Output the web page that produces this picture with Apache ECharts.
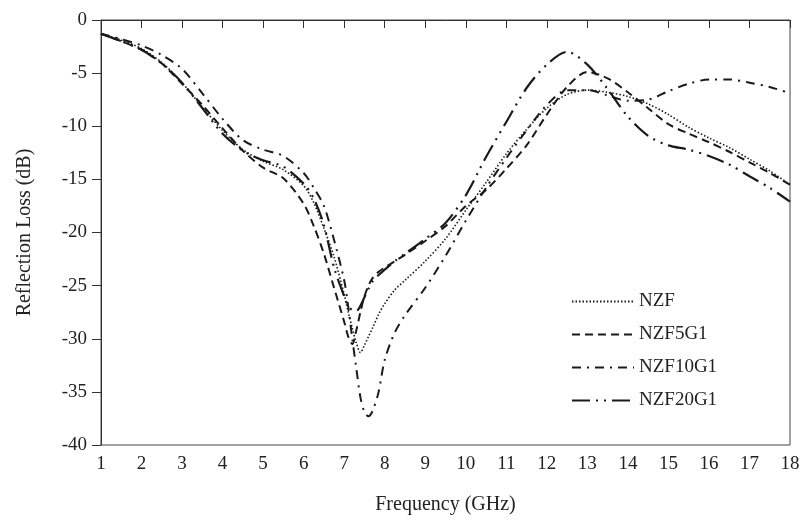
<!DOCTYPE html>
<html lang="en">
<head>
    <meta charset="UTF-8">
    <title>Reflection Loss</title>
    <script src="https://cdn.jsdelivr.net/npm/echarts@6/dist/echarts.min.js"></script>
    <style>
        html, body { margin: 0; padding: 0; background: #fff; }
        #chart { width: 808px; height: 522px; }
    </style>
</head>
<body>
<div id="chart"></div>
<script>
    // frequency points (GHz)
    var freq = [1, 1.5, 2, 2.5, 3, 3.5, 4, 4.5, 5, 5.5, 6, 6.25, 6.5, 6.75, 7, 7.1, 7.2, 7.3, 7.4, 7.5, 7.6, 7.7, 7.85, 8,
        8.25, 8.5, 9, 9.5, 10, 10.5, 11, 11.5, 12, 12.5, 13, 13.5, 14, 14.5, 15, 15.5, 16, 16.5, 17, 17.5, 18];

    // reflection loss (dB)
    var nzf = [-1.3, -1.9, -2.7, -4.0, -5.9, -8.2, -10.4, -12.2, -13.3, -14.1, -15.6, -17.2, -19.6, -22.3, -25.8, -27.5,
        -29.0, -30.4, -31.3, -30.6, -29.8, -29.0, -27.7, -26.7, -25.4, -24.5, -22.7, -20.6, -17.9, -15.3, -12.6, -10.3,
        -8.3, -7.0, -6.6, -6.8, -7.2, -7.9, -8.9, -10.1, -11.1, -12.0, -13.1, -14.2, -15.5];
    var nzf5g1 = [-1.3, -2.0, -2.8, -4.1, -6.0, -8.0, -10.2, -12.3, -13.9, -14.9, -17.3, -19.4, -22.0, -25.2, -28.4, -29.8,
        -30.5, -29.2, -27.5, -26.0, -25.0, -24.3, -23.7, -23.3, -22.7, -22.1, -20.8, -19.4, -17.5, -16.0, -14.0, -11.8,
        -8.9, -6.3, -4.9, -5.5, -6.8, -8.3, -9.8, -10.7, -11.5, -12.4, -13.4, -14.4, -15.5];
    var nzf10g1 = [-1.3, -1.8, -2.4, -3.3, -4.6, -6.9, -9.3, -11.3, -12.2, -12.8, -14.4, -15.8, -17.5, -20.7, -24.5, -27.0,
        -30.0, -32.8, -35.5, -36.9, -37.3, -36.8, -35.0, -32.0, -29.4, -27.8, -25.2, -22.2, -18.9, -15.8, -13.0, -10.4,
        -8.0, -6.6, -6.6, -7.1, -7.6, -7.5, -6.7, -6.0, -5.6, -5.6, -5.9, -6.3, -6.9];
    var nzf20g1 = [-1.3, -2.0, -2.8, -4.1, -5.9, -8.3, -10.7, -12.3, -13.2, -13.8, -15.4, -16.8, -19.3, -23.3, -26.0, -26.9,
        -27.3, -27.4, -26.9, -26.1, -25.3, -24.6, -24.0, -23.5, -22.7, -22.0, -20.6, -19.1, -16.5, -12.9, -9.6, -6.4,
        -4.2, -3.0, -4.2, -6.5, -9.1, -10.9, -11.8, -12.2, -12.8, -13.6, -14.7, -15.8, -17.1];

    var names = ['NZF', 'NZF5G1', 'NZF10G1', 'NZF20G1'];
    var values = [nzf, nzf5g1, nzf10g1, nzf20g1];
    // dotted, dashed, dash-dot, long dash-dot-dot
    var dashes = [[1.5, 2], [8, 5], [9, 6, 2, 6], [18, 6, 2, 6, 2, 6]];
    var widths = [1.6, 2, 2, 2.2];

    var font = 'Liberation Serif';

    var series = [];
    for (var i = 0; i < names.length; i++) {
        var pts = [];
        for (var j = 0; j < freq.length; j++) {
            pts.push([freq[j], values[i][j]]);
        }
        series.push({
            name: names[i],
            type: 'line',
            data: pts,
            smooth: 0.3,
            symbol: 'none',
            lineStyle: { color: '#1a1a1a', width: widths[i], type: dashes[i] },
            itemStyle: { color: '#1a1a1a' }
        });
    }

    var myChart = echarts.init(document.getElementById('chart'));
    myChart.setOption({
        animation: false,
        grid: {
            left: 101, right: 18, top: 20, bottom: 77,
            show: true, borderColor: '#444', borderWidth: 1
        },
        legend: {
            orient: 'vertical',
            left: 566,
            top: 287,
            itemWidth: 62,
            itemHeight: 12,
            itemGap: 14,
            itemStyle: { color: 'transparent', borderColor: 'transparent', borderWidth: 0 },
            textStyle: { fontFamily: font, fontSize: 19, color: '#222' },
            data: names
        },
        xAxis: {
            type: 'value',
            min: 1, max: 18, interval: 1,
            name: 'Frequency (GHz)',
            nameLocation: 'middle',
            nameGap: 50,
            nameTextStyle: { fontFamily: font, fontSize: 20, color: '#222' },
            axisLine: { lineStyle: { color: '#333', width: 1 } },
            axisTick: { inside: false, length: 8, lineStyle: { color: '#333' } },
            axisLabel: { fontFamily: font, fontSize: 19, color: '#222', margin: 10 },
            splitLine: { show: false }
        },
        yAxis: {
            type: 'value',
            min: -40, max: 0, interval: 5,
            name: 'Reflection Loss (dB)',
            nameLocation: 'middle',
            nameGap: 66,
            nameTextStyle: { fontFamily: font, fontSize: 20, color: '#222' },
            axisLine: { show: true, lineStyle: { color: '#333', width: 1 } },
            axisTick: { show: true, inside: false, length: 9, lineStyle: { color: '#333' } },
            axisLabel: { fontFamily: font, fontSize: 19, color: '#222', margin: 14 },
            splitLine: { show: false }
        },
        series: series
    });
</script>
</body>
</html>
